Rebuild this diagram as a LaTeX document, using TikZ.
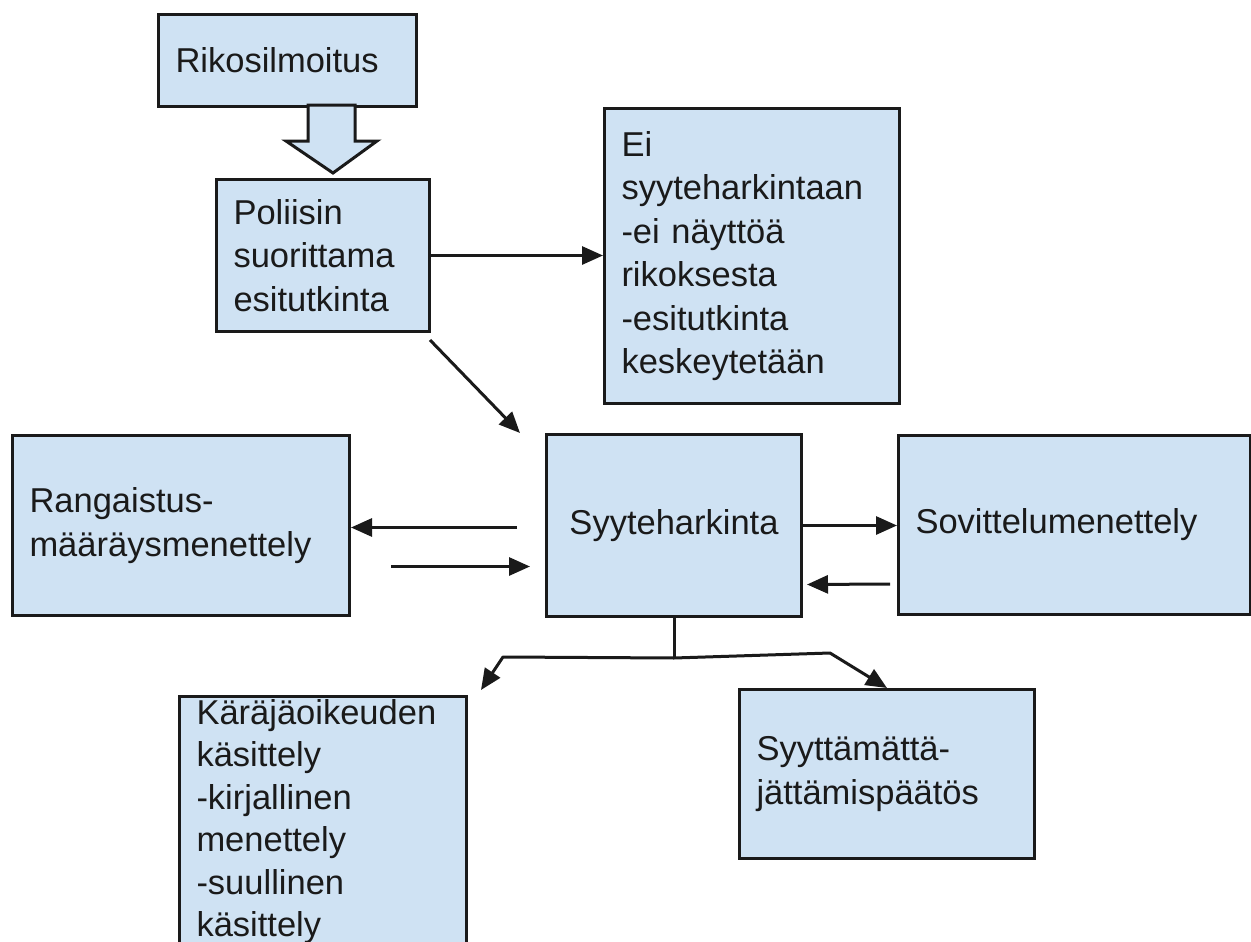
\documentclass[tikz,border=0pt]{standalone}
\usepackage{fontspec}
\setmainfont{Liberation Sans}
\usetikzlibrary{arrows.meta,calc}
\definecolor{boxfill}{HTML}{CFE2F3}
\definecolor{ink}{HTML}{1A1A1A}

\begin{document}
\begin{tikzpicture}[x=1pt, y=-1pt, >={Triangle[length=21pt,width=18pt]}, block/.style={rectangle, draw=ink, fill=boxfill, line width=3pt, anchor=north west, align=left, inner xsep=17pt, inner ysep=0pt, text=ink, font=\fontsize{34.5}{43.5}\selectfont}, link/.style={->, draw=ink, line width=3pt}]

  \useasboundingbox[fill=white] (0,0) rectangle (1251,942);

  \node[block, text width=224pt, minimum height=92pt] (rik) at (157,13) {Rikosilmoitus};
  \node[block, text width=179pt, minimum height=152pt] (pol) at (215,178) {Poliisin\\ suorittama\\ esitutkinta};
  \node[block, text width=261pt, minimum height=295pt] (ei) at (603,107) {Ei\\ syyteharkintaan\\ -ei näyttöä\\ rikoksesta\\ -esitutkinta\\ keskeytetään};
  \node[block, align=center, inner xsep=10pt, text width=235pt, minimum height=182pt] (syy) at (545,433) {Syyteharkinta};
  \node[block, text width=303pt, minimum height=180pt] (ran) at (11,434) {Rangaistus-\\ määräysmenettely};
  \node[block, text width=318pt, minimum height=179pt] (sov) at (897,434) {Sovittelumenettely};
  \node[block, font=\fontsize{34.5}{42.5}\selectfont, text width=253pt, minimum height=250pt] (kar) at (178,695) {Käräjäoikeuden\\ käsittely\\ -kirjallinen\\ menettely\\ -suullinen\\ käsittely};
  \node[block, text width=261pt, minimum height=169pt] (syt) at (738,688) {Syyttämättä-\\ jättämispäätös};

  % block arrow between the first two boxes
  \draw[draw=ink, fill=boxfill, line width=3pt, line join=miter] (308,105) -- (355,105) -- (355,141) -- (377,141) -- (333,173) -- (286,141) -- (308,141) -- cycle;

  \draw[link] (pol.east) -- (pol.east -| ei.west);
  \draw[link] ($(pol.south east)+(-1,7)$) -- ($(syy.north west)+(-25,0)$);

  \coordinate (toran) at ($(syy.west)+(-28,2)$);
  \draw[link] (toran) -- (toran -| ran.east);
  \draw[link] ($(ran.east)+(40,41)$) -- ($(syy.west)+(-15,41)$);
  \draw[link] (syy.east) -- (syy.east -| sov.west);
  \draw[link] ($(sov.west)+(-7,59)$) -- ($(syy.east)+(4,59)$);

  % branch below
  \coordinate (fork) at ($(syy.south)+(0,40)$);
  \coordinate (forkL) at (503,657);
  \coordinate (forkR) at (830,653);
  \draw[draw=ink, line width=3pt] (syy.south) -- (fork);
  \draw[link, line join=round] (fork) -- (forkL) -- ($(kar.north east)+(13,-5)$);
  \draw[link, line join=round] (fork) -- (forkR) -- (syt.north);
\end{tikzpicture}
\end{document}
